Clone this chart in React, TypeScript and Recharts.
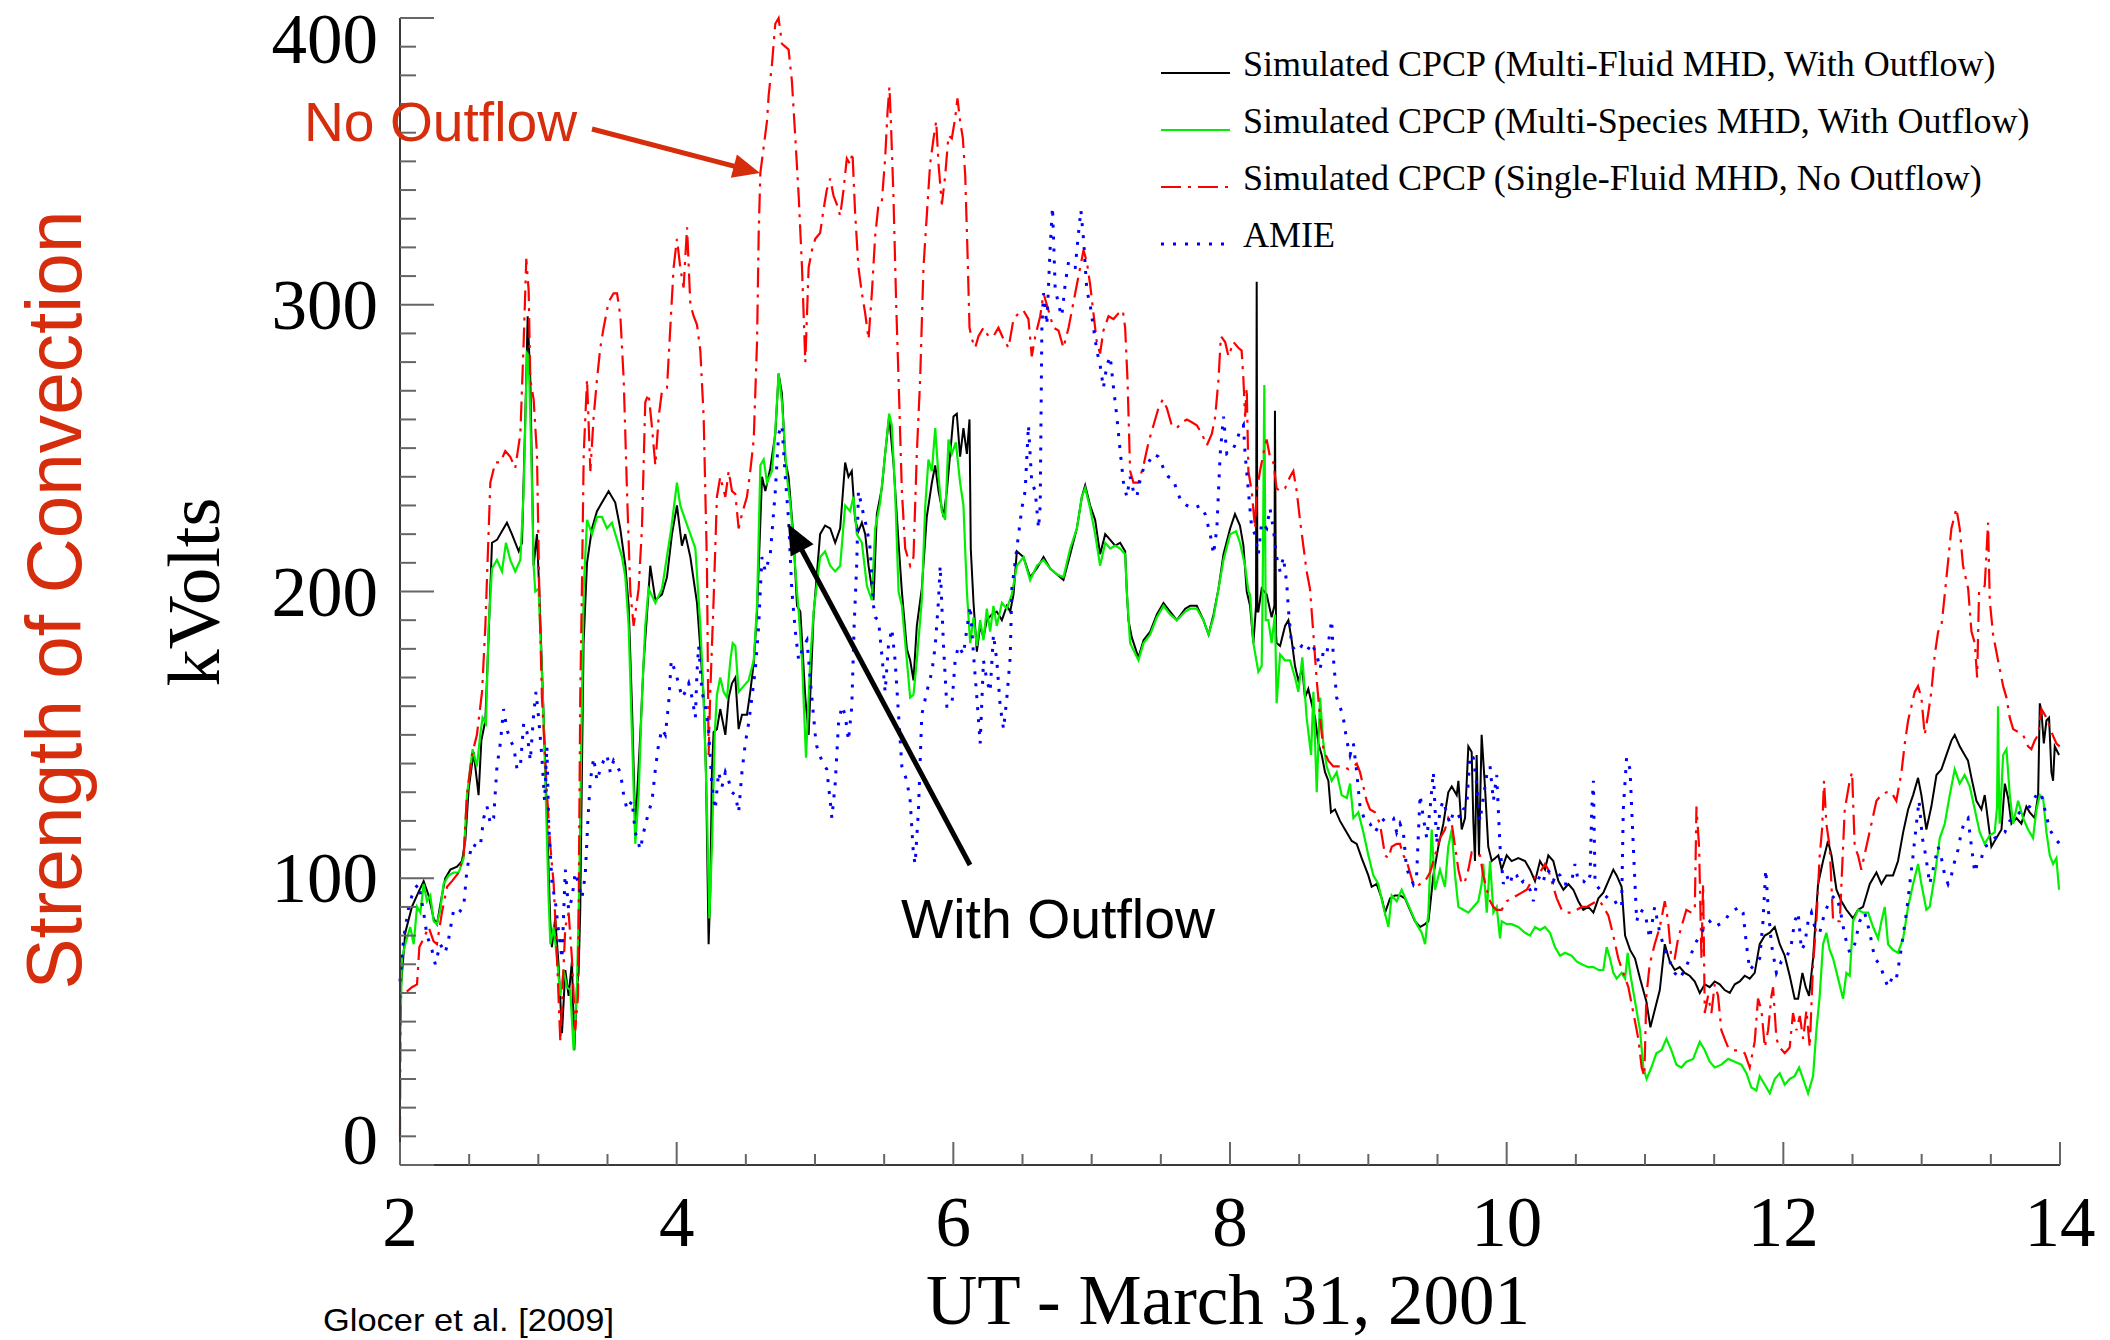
import { LineChart, Line, XAxis, YAxis, Legend } from "recharts";

// UT hours and cross polar cap potential (kV), March 31, 2001
const MULTI_FLUID: [number, number][] = [
  [2.0,58],[2.038,81],[2.086,90],[2.123,94],[2.171,99],[2.207,94],[2.243,86],[2.267,84],[2.303,94],[2.327,100],[2.364,103],[2.412,104],[2.448,106],[2.472,113],[2.496,131],[2.532,144],[2.568,129],[2.588,148],[2.617,155],[2.641,185],[2.665,217],[2.701,218],[2.737,221],[2.773,224],[2.809,220],[2.858,214],[2.882,217],[2.906,261],[2.923,296],[2.942,274],[2.966,209],[2.990,220],[3.007,200],[3.050,140],[3.086,85],[3.098,76],[3.122,86],[3.146,70],[3.171,46],[3.195,68],[3.219,59],[3.243,71],[3.260,40],[3.279,62],[3.291,67],[3.303,89],[3.315,137],[3.327,182],[3.352,210],[3.388,222],[3.424,228],[3.460,231],[3.508,235],[3.556,231],[3.592,222],[3.629,209],[3.653,195],[3.677,160],[3.701,117],[3.737,150],[3.761,175],[3.797,200],[3.809,209],[3.846,197],[3.894,199],[3.930,205],[3.966,220],[4.002,230],[4.038,216],[4.062,220],[4.099,212],[4.135,200],[4.147,196],[4.171,180],[4.195,163],[4.212,137],[4.231,77],[4.243,95],[4.255,137],[4.267,151],[4.291,152],[4.315,159],[4.352,150],[4.376,163],[4.400,168],[4.424,170],[4.448,152],[4.472,157],[4.508,157],[4.532,165],[4.557,175],[4.581,193],[4.617,240],[4.641,235],[4.677,243],[4.713,255],[4.737,276],[4.761,269],[4.785,246],[4.809,240],[4.846,218],[4.870,195],[4.894,193],[4.930,163],[4.954,150],[4.990,192],
  [5.037,220],[5.073,223],[5.110,222],[5.146,217],[5.182,222],[5.218,245],[5.242,240],[5.266,242],[5.290,225],[5.314,221],[5.339,224],[5.363,220],[5.387,209],[5.411,201],[5.423,197],[5.447,227],[5.483,236],[5.507,248],[5.536,261],[5.567,245],[5.604,217],[5.628,200],[5.664,180],[5.688,176],[5.712,169],[5.736,188],[5.772,201],[5.808,226],[5.845,238],[5.869,244],[5.893,235],[5.929,226],[5.953,235],[5.977,248],[6.001,261],[6.025,262],[6.049,247],[6.073,257],[6.098,248],[6.117,260],[6.126,215],[6.146,196],[6.170,179],[6.194,188],[6.218,184],[6.242,190],[6.278,192],[6.314,193],[6.351,190],[6.387,195],[6.411,193],[6.435,199],[6.459,214],[6.507,212],[6.555,205],[6.604,208],[6.652,212],[6.700,208],[6.748,206],[6.796,204],[6.845,213],[6.893,222],[6.929,233],[6.953,237],[6.989,230],[7.025,225],[7.061,213],[7.098,220],[7.134,218],[7.170,216],[7.206,217],[7.242,214],[7.254,200],[7.266,190],[7.290,184],[7.338,177],[7.375,183],[7.423,186],[7.471,192],[7.519,196],[7.567,193],[7.616,190],[7.676,194],[7.712,195],[7.760,195],[7.808,190],[7.845,185],[7.881,192],[7.917,201],[7.953,213],[8.001,222],
  [8.036,227],[8.072,223],[8.097,216],[8.121,200],[8.145,195],[8.169,182],[8.181,190],[8.188,195],[8.193,308],[8.198,193],[8.205,193],[8.229,201],[8.265,199],[8.301,191],[8.321,195],[8.325,263],[8.333,185],[8.337,182],[8.362,181],[8.398,188],[8.422,190],[8.446,183],[8.470,174],[8.494,169],[8.523,173],[8.542,163],[8.566,166],[8.595,160],[8.615,156],[8.639,147],[8.663,143],[8.687,137],[8.711,134],[8.730,123],[8.759,124],[8.795,120],[8.831,117],[8.880,113],[8.916,112],[8.952,107],[9.000,101],[9.024,97],[9.060,98],[9.097,93],[9.121,88],[9.157,93],[9.193,94],[9.229,94],[9.265,93],[9.301,89],[9.337,85],[9.374,83],[9.410,84],[9.434,85],[9.446,90],[9.470,101],[9.506,111],[9.542,119],[9.578,130],[9.603,132],[9.639,129],[9.651,134],[9.675,117],[9.699,121],[9.723,146],[9.747,144],[9.759,120],[9.771,106],[9.783,143],[9.800,108],[9.819,150],[9.843,132],[9.867,111],[9.892,106],[9.916,107],[9.940,108],[9.964,103],[10.000,108],[10.036,106],[10.084,107],[10.133,106],[10.169,103],[10.205,99],[10.241,106],[10.277,103],[10.301,108],[10.337,106],[10.374,99],[10.410,96],[10.446,98],[10.482,96],[10.518,92],[10.554,89],[10.591,90],[10.627,88],[10.663,93],[10.699,95],[10.735,99],[10.771,103],[10.795,101],[10.831,97],[10.856,80],[10.892,75],[10.928,72],[10.964,65],
  [11.010,57],[11.039,48],[11.070,54],[11.107,61],[11.143,77],[11.179,71],[11.215,68],[11.251,69],[11.287,67],[11.323,66],[11.360,64],[11.396,60],[11.432,63],[11.468,62],[11.504,64],[11.540,63],[11.576,61],[11.613,60],[11.649,63],[11.685,64],[11.721,66],[11.757,65],[11.793,67],[11.829,77],[11.866,80],[11.902,81],[11.938,83],[11.974,77],[12.010,73],[12.046,66],[12.082,58],[12.107,58],[12.138,67],[12.162,62],[12.186,59],[12.215,72],[12.251,98],[12.287,106],[12.323,113],[12.348,108],[12.384,96],[12.420,92],[12.456,89],[12.504,86],[12.540,89],[12.576,90],[12.625,98],[12.673,102],[12.709,98],[12.745,101],[12.793,101],[12.829,106],[12.866,116],[12.902,124],[12.938,129],[12.974,135],[12.998,129],[13.034,117],[13.070,125],[13.107,136],[13.143,138],[13.179,143],[13.215,148],[13.239,150],[13.275,146],[13.311,143],[13.335,141],[13.360,135],[13.396,127],[13.432,124],[13.456,129],[13.480,120],[13.504,111],[13.540,114],[13.577,117],[13.601,133],[13.625,128],[13.649,119],[13.685,121],[13.721,119],[13.757,125],[13.781,123],[13.817,121],[13.842,129],[13.854,161],[13.866,158],[13.883,147],[13.902,155],[13.921,156],[13.938,137],[13.950,134],[13.962,146],[13.993,143],
];

const MULTI_SPECIES: [number, number][] = [
  [2.0,40],[2.014,72],[2.038,77],[2.074,83],[2.099,77],[2.123,90],[2.147,88],[2.171,98],[2.195,92],[2.219,94],[2.243,85],[2.267,84],[2.291,89],[2.315,98],[2.352,101],[2.388,102],[2.424,102],[2.460,107],[2.484,129],[2.525,145],[2.556,139],[2.580,150],[2.597,156],[2.621,154],[2.641,188],[2.665,208],[2.701,211],[2.737,207],[2.766,217],[2.797,211],[2.833,207],[2.870,211],[2.894,235],[2.918,283],[2.930,282],[2.949,248],[2.966,209],[2.978,200],[3.002,201],[3.038,156],[3.075,92],[3.087,77],[3.111,83],[3.135,72],[3.159,59],[3.183,68],[3.207,62],[3.231,61],[3.255,40],[3.279,62],[3.296,98],[3.311,150],[3.328,201],[3.352,225],[3.388,220],[3.424,226],[3.460,226],[3.496,222],[3.532,224],[3.569,218],[3.605,212],[3.629,205],[3.653,188],[3.677,150],[3.701,112],[3.725,129],[3.749,163],[3.773,188],[3.797,201],[3.846,196],[3.894,201],[3.961,222],[4.002,238],[4.026,230],[4.062,225],[4.099,220],[4.135,215],[4.171,188],[4.195,163],[4.219,124],[4.236,86],[4.255,111],[4.275,150],[4.291,164],[4.315,170],[4.339,165],[4.364,163],[4.388,176],[4.405,182],[4.424,181],[4.448,165],[4.484,167],[4.520,169],[4.557,176],[4.581,195],[4.605,244],[4.629,246],[4.653,238],[4.689,242],[4.713,256],[4.737,276],[4.761,266],[4.797,240],[4.821,231],[4.846,216],[4.870,200],[4.882,193],[4.906,176],[4.935,142],[4.966,176],[4.990,193],
  [5.037,212],[5.073,214],[5.110,209],[5.146,207],[5.182,209],[5.218,230],[5.254,228],[5.278,233],[5.302,220],[5.339,217],[5.375,202],[5.411,197],[5.435,222],[5.471,231],[5.507,248],[5.536,262],[5.555,258],[5.579,235],[5.604,200],[5.628,195],[5.664,176],[5.688,163],[5.712,164],[5.736,176],[5.772,197],[5.796,229],[5.820,246],[5.845,242],[5.869,257],[5.893,240],[5.917,228],[5.941,225],[5.965,253],[5.989,248],[6.018,252],[6.049,238],[6.073,230],[6.098,200],[6.122,182],[6.146,191],[6.170,181],[6.194,190],[6.218,183],[6.242,194],[6.266,186],[6.290,195],[6.314,188],[6.351,196],[6.387,194],[6.423,199],[6.459,209],[6.507,212],[6.555,204],[6.604,209],[6.652,211],[6.700,208],[6.748,206],[6.796,205],[6.845,215],[6.893,222],[6.929,233],[6.953,236],[6.989,229],[7.025,220],[7.061,209],[7.098,217],[7.134,215],[7.170,216],[7.206,215],[7.242,213],[7.254,200],[7.278,182],[7.338,176],[7.375,182],[7.423,185],[7.471,191],[7.519,195],[7.567,192],[7.616,190],[7.676,193],[7.712,194],[7.760,194],[7.808,190],[7.845,185],[7.881,191],[7.917,201],[7.953,211],[8.001,220],
  [8.044,221],[8.072,217],[8.109,209],[8.133,200],[8.145,199],[8.169,182],[8.205,172],[8.229,174],[8.236,200],[8.248,272],[8.258,190],[8.277,190],[8.301,182],[8.325,192],[8.337,161],[8.362,178],[8.398,176],[8.434,176],[8.470,170],[8.494,165],[8.523,177],[8.554,156],[8.586,143],[8.603,165],[8.627,130],[8.651,163],[8.675,147],[8.699,139],[8.735,134],[8.771,137],[8.807,129],[8.844,128],[8.868,133],[8.892,121],[8.928,123],[8.964,116],[9.000,108],[9.036,101],[9.072,98],[9.109,90],[9.145,83],[9.169,94],[9.205,92],[9.241,96],[9.277,92],[9.313,88],[9.349,84],[9.386,81],[9.410,77],[9.434,88],[9.458,117],[9.482,96],[9.518,103],[9.554,97],[9.578,111],[9.603,117],[9.627,101],[9.651,90],[9.687,89],[9.723,88],[9.759,90],[9.795,92],[9.819,98],[9.831,105],[9.856,88],[9.880,106],[9.904,88],[9.928,90],[9.952,79],[9.964,85],[10.000,84],[10.036,84],[10.084,83],[10.133,81],[10.169,80],[10.205,83],[10.241,82],[10.277,83],[10.313,81],[10.349,76],[10.386,73],[10.422,74],[10.470,73],[10.506,71],[10.542,70],[10.591,69],[10.627,69],[10.663,68],[10.699,68],[10.723,76],[10.747,72],[10.771,67],[10.795,65],[10.831,67],[10.856,65],[10.875,74],[10.892,67],[10.928,57],[10.964,47],[10.988,34],[11.012,30],
  [11.046,34],[11.082,39],[11.119,40],[11.155,44],[11.191,40],[11.227,35],[11.263,34],[11.299,36],[11.348,37],[11.396,43],[11.432,40],[11.468,36],[11.504,34],[11.552,35],[11.601,37],[11.649,36],[11.697,35],[11.733,32],[11.769,27],[11.805,26],[11.829,31],[11.866,28],[11.902,25],[11.938,30],[11.974,32],[12.010,28],[12.046,30],[12.082,31],[12.114,34],[12.143,30],[12.179,25],[12.215,31],[12.239,47],[12.263,59],[12.287,77],[12.311,81],[12.335,75],[12.360,72],[12.396,65],[12.432,58],[12.456,67],[12.480,66],[12.504,85],[12.540,89],[12.576,88],[12.613,88],[12.649,83],[12.685,79],[12.709,85],[12.733,90],[12.757,77],[12.793,75],[12.829,74],[12.866,79],[12.902,90],[12.938,98],[12.974,105],[12.998,98],[13.034,89],[13.058,90],[13.095,101],[13.131,114],[13.167,119],[13.203,129],[13.239,138],[13.275,133],[13.311,136],[13.348,132],[13.384,124],[13.420,116],[13.456,112],[13.492,115],[13.528,116],[13.545,125],[13.552,160],[13.560,125],[13.564,119],[13.589,143],[13.613,145],[13.637,129],[13.661,119],[13.697,127],[13.733,121],[13.769,117],[13.805,114],[13.830,124],[13.854,129],[13.878,128],[13.902,116],[13.926,108],[13.950,105],[13.974,107],[13.993,96],
];

const SINGLE_FLUID: [number, number][] = [
  [2.0,10],[2.004,59],[2.038,60],[2.086,62],[2.123,63],[2.140,76],[2.171,79],[2.207,83],[2.243,78],[2.267,77],[2.303,88],[2.340,97],[2.376,99],[2.424,102],[2.460,108],[2.484,129],[2.520,143],[2.556,150],[2.593,165],[2.617,188],[2.653,238],[2.689,245],[2.725,245],[2.761,249],[2.797,247],[2.833,243],[2.870,255],[2.894,287],[2.913,316],[2.930,305],[2.942,274],[2.966,267],[2.990,248],[3.007,200],[3.026,163],[3.062,130],[3.087,111],[3.111,98],[3.135,72],[3.159,43],[3.195,83],[3.219,88],[3.243,72],[3.267,47],[3.287,59],[3.303,163],[3.315,201],[3.328,248],[3.352,274],[3.376,242],[3.400,261],[3.424,274],[3.448,285],[3.472,292],[3.508,301],[3.544,304],[3.569,304],[3.593,296],[3.617,274],[3.641,235],[3.665,200],[3.689,188],[3.725,201],[3.749,222],[3.773,266],[3.797,269],[3.822,257],[3.846,244],[3.870,261],[3.894,270],[3.930,271],[3.954,292],[3.978,313],[4.002,323],[4.026,313],[4.050,306],[4.075,327],[4.099,300],[4.123,296],[4.147,293],[4.171,284],[4.195,261],[4.219,209],[4.231,143],[4.243,165],[4.267,197],[4.291,233],[4.315,240],[4.352,233],[4.376,242],[4.400,235],[4.424,234],[4.448,222],[4.472,227],[4.508,233],[4.532,242],[4.557,253],[4.581,287],[4.593,325],[4.605,346],[4.629,355],[4.653,364],[4.665,373],[4.689,384],[4.713,398],[4.737,400],[4.761,391],[4.785,390],[4.809,389],[4.833,378],[4.858,358],[4.882,338],[4.906,313],[4.930,280],[4.954,313],[4.978,319],[5.002,323],
  [5.037,325],[5.061,333],[5.085,340],[5.110,344],[5.134,338],[5.158,335],[5.182,331],[5.206,340],[5.230,351],[5.254,349],[5.271,353],[5.290,332],[5.314,313],[5.339,304],[5.363,297],[5.387,288],[5.411,304],[5.435,324],[5.459,335],[5.483,336],[5.507,351],[5.524,367],[5.538,376],[5.550,362],[5.567,338],[5.587,300],[5.604,274],[5.628,235],[5.652,215],[5.688,209],[5.712,212],[5.736,248],[5.760,274],[5.784,313],[5.808,331],[5.832,349],[5.857,358],[5.876,364],[5.893,349],[5.917,335],[5.941,345],[5.965,359],[5.989,358],[6.013,365],[6.030,372],[6.049,364],[6.069,358],[6.086,345],[6.102,319],[6.117,292],[6.134,288],[6.158,285],[6.182,289],[6.218,292],[6.254,289],[6.290,289],[6.326,292],[6.363,288],[6.399,285],[6.435,295],[6.471,297],[6.507,298],[6.543,295],[6.567,282],[6.592,289],[6.628,296],[6.652,304],[6.688,298],[6.724,292],[6.760,291],[6.796,285],[6.833,292],[6.869,301],[6.905,310],[6.941,319],[6.965,315],[6.989,307],[7.013,297],[7.037,287],[7.061,283],[7.085,291],[7.122,296],[7.158,295],[7.194,297],[7.225,298],[7.242,292],[7.259,274],[7.278,242],[7.302,238],[7.338,238],[7.375,244],[7.411,252],[7.447,258],[7.483,264],[7.514,267],[7.543,264],[7.579,258],[7.616,257],[7.652,259],[7.688,260],[7.724,259],[7.760,258],[7.796,255],[7.833,251],[7.869,255],[7.893,261],[7.917,274],[7.934,289],[7.965,287],[7.989,282],[8.025,287],
  [8.060,285],[8.084,284],[8.097,274],[8.109,261],[8.121,271],[8.133,242],[8.157,235],[8.181,222],[8.193,235],[8.217,242],[8.241,248],[8.265,253],[8.289,247],[8.313,245],[8.337,236],[8.362,235],[8.398,236],[8.434,240],[8.458,242],[8.482,235],[8.506,225],[8.530,216],[8.554,207],[8.578,201],[8.603,185],[8.627,169],[8.651,156],[8.675,145],[8.711,141],[8.747,139],[8.783,139],[8.819,139],[8.856,138],[8.892,139],[8.916,140],[8.940,137],[8.964,132],[8.988,127],[9.012,124],[9.048,123],[9.084,119],[9.121,108],[9.145,107],[9.169,111],[9.205,112],[9.229,112],[9.253,108],[9.277,106],[9.301,102],[9.325,98],[9.349,97],[9.374,98],[9.410,99],[9.446,102],[9.482,108],[9.518,114],[9.554,117],[9.578,121],[9.603,119],[9.627,111],[9.651,103],[9.675,98],[9.699,99],[9.723,103],[9.747,109],[9.783,108],[9.807,108],[9.831,101],[9.856,96],[9.880,92],[9.904,90],[9.928,89],[9.964,89],[10.000,92],[10.036,93],[10.073,94],[10.109,95],[10.145,96],[10.181,99],[10.217,101],[10.253,103],[10.277,105],[10.301,103],[10.325,99],[10.362,93],[10.398,89],[10.434,88],[10.470,88],[10.506,89],[10.542,90],[10.578,90],[10.615,91],[10.651,92],[10.675,92],[10.711,89],[10.735,87],[10.771,80],[10.807,72],[10.843,67],[10.880,62],[10.916,53],[10.952,44],[10.976,34],[10.995,31],
  [11.010,59],[11.034,70],[11.070,77],[11.107,83],[11.143,92],[11.167,85],[11.191,72],[11.215,72],[11.239,79],[11.263,83],[11.299,89],[11.335,88],[11.360,89],[11.372,125],[11.391,111],[11.408,72],[11.420,98],[11.432,53],[11.456,59],[11.480,53],[11.504,63],[11.528,59],[11.552,47],[11.576,44],[11.601,41],[11.637,40],[11.685,40],[11.721,39],[11.757,34],[11.793,43],[11.817,58],[11.842,54],[11.866,41],[11.890,47],[11.914,59],[11.926,62],[11.950,44],[11.974,41],[12.010,39],[12.046,41],[12.070,53],[12.095,47],[12.119,52],[12.143,44],[12.167,54],[12.191,41],[12.215,70],[12.239,85],[12.263,108],[12.280,117],[12.294,134],[12.311,119],[12.335,111],[12.360,85],[12.408,85],[12.444,124],[12.480,134],[12.497,137],[12.516,111],[12.540,108],[12.564,103],[12.600,111],[12.637,119],[12.673,127],[12.709,129],[12.745,130],[12.781,130],[12.817,127],[12.854,137],[12.878,147],[12.902,155],[12.926,160],[12.950,165],[12.974,167],[12.998,163],[13.022,150],[13.046,157],[13.070,165],[13.095,178],[13.119,186],[13.143,188],[13.167,199],[13.215,222],[13.251,229],[13.275,222],[13.299,209],[13.336,201],[13.360,186],[13.384,182],[13.401,170],[13.415,200],[13.456,202],[13.480,224],[13.492,197],[13.516,185],[13.552,176],[13.589,167],[13.613,163],[13.637,156],[13.661,152],[13.697,151],[13.733,150],[13.769,146],[13.793,145],[13.817,148],[13.842,150],[13.866,159],[13.902,156],[13.938,151],[13.974,147],[13.998,146],
];

const AMIE: [number, number][] = [
  [2.0,64],[2.026,79],[2.063,90],[2.099,96],[2.135,98],[2.171,88],[2.195,80],[2.231,75],[2.255,70],[2.291,77],[2.327,74],[2.352,79],[2.388,89],[2.424,88],[2.460,90],[2.484,103],[2.520,112],[2.556,111],[2.580,111],[2.605,121],[2.629,125],[2.653,119],[2.677,121],[2.701,139],[2.725,147],[2.749,159],[2.773,152],[2.797,148],[2.822,146],[2.846,138],[2.870,139],[2.894,154],[2.918,151],[2.942,141],[2.966,157],[2.983,165],[3.002,156],[3.026,142],[3.045,127],[3.062,146],[3.075,119],[3.099,98],[3.123,92],[3.147,81],[3.171,72],[3.195,103],[3.219,89],[3.243,93],[3.267,102],[3.291,98],[3.315,93],[3.339,101],[3.359,121],[3.376,134],[3.400,142],[3.424,134],[3.448,138],[3.472,141],[3.496,143],[3.520,137],[3.544,141],[3.569,139],[3.593,137],[3.617,129],[3.641,124],[3.677,127],[3.701,116],[3.737,110],[3.761,116],[3.797,123],[3.822,127],[3.846,138],[3.870,147],[3.894,152],[3.918,150],[3.942,161],[3.961,176],[3.990,172],[4.014,168],[4.038,163],[4.063,165],[4.087,168],[4.111,163],[4.135,156],[4.147,172],[4.159,181],[4.183,165],[4.207,160],[4.231,152],[4.255,132],[4.279,124],[4.303,137],[4.328,132],[4.352,137],[4.376,134],[4.400,130],[4.424,129],[4.448,123],[4.472,137],[4.496,147],[4.520,154],[4.544,163],[4.569,173],[4.593,188],[4.605,201],[4.617,212],[4.641,207],[4.677,213],[4.713,235],[4.737,255],[4.761,258],[4.785,240],[4.809,225],[4.833,200],[4.858,186],[4.882,176],[4.918,181],[4.942,183],[4.966,169],[5.002,150],
  [5.013,146],[5.049,141],[5.085,138],[5.110,127],[5.122,121],[5.146,133],[5.170,154],[5.194,160],[5.218,157],[5.242,148],[5.266,160],[5.283,188],[5.302,210],[5.314,235],[5.350,227],[5.375,222],[5.399,215],[5.423,195],[5.435,191],[5.459,190],[5.483,178],[5.507,165],[5.531,181],[5.555,187],[5.579,176],[5.604,157],[5.628,139],[5.664,134],[5.688,127],[5.712,108],[5.724,105],[5.748,124],[5.772,157],[5.808,165],[5.845,172],[5.869,181],[5.893,197],[5.905,209],[5.929,181],[5.953,160],[5.989,160],[6.013,176],[6.037,181],[6.073,178],[6.098,187],[6.122,195],[6.146,178],[6.170,163],[6.194,147],[6.218,176],[6.242,169],[6.266,165],[6.290,185],[6.314,176],[6.339,160],[6.363,152],[6.387,163],[6.411,177],[6.423,201],[6.459,215],[6.495,229],[6.519,235],[6.543,258],[6.567,238],[6.592,235],[6.616,222],[6.628,230],[6.640,292],[6.652,304],[6.676,293],[6.700,320],[6.717,334],[6.736,306],[6.760,300],[6.784,296],[6.808,307],[6.833,315],[6.857,313],[6.881,313],[6.905,325],[6.922,333],[6.941,323],[6.965,305],[6.989,300],[7.013,292],[7.037,284],[7.061,279],[7.085,271],[7.110,279],[7.134,282],[7.158,271],[7.182,261],[7.206,249],[7.230,238],[7.254,233],[7.278,240],[7.302,235],[7.326,233],[7.351,239],[7.375,243],[7.411,245],[7.447,248],[7.483,247],[7.519,243],[7.555,240],[7.592,239],[7.616,235],[7.652,231],[7.688,230],[7.736,229],[7.784,230],[7.820,227],[7.857,220],[7.881,213],[7.905,222],[7.929,248],[7.953,261],[7.977,248],[8.013,249],
  [8.036,251],[8.072,256],[8.097,258],[8.109,248],[8.133,235],[8.157,222],[8.181,220],[8.205,213],[8.229,224],[8.265,222],[8.289,229],[8.313,222],[8.337,212],[8.362,207],[8.386,212],[8.410,203],[8.422,194],[8.446,181],[8.482,179],[8.518,181],[8.554,179],[8.590,182],[8.627,178],[8.651,173],[8.675,179],[8.699,178],[8.735,190],[8.747,177],[8.771,163],[8.795,160],[8.819,156],[8.844,148],[8.868,143],[8.892,147],[8.916,137],[8.940,125],[8.976,120],[9.012,119],[9.048,116],[9.084,119],[9.121,121],[9.157,121],[9.181,121],[9.205,116],[9.229,119],[9.253,116],[9.277,103],[9.301,101],[9.325,98],[9.349,101],[9.374,129],[9.398,121],[9.422,114],[9.446,124],[9.470,137],[9.494,112],[9.518,124],[9.542,127],[9.566,123],[9.590,119],[9.615,123],[9.639,123],[9.663,121],[9.687,124],[9.711,125],[9.735,143],[9.759,142],[9.783,133],[9.807,120],[9.831,128],[9.856,136],[9.880,139],[9.904,127],[9.928,136],[9.952,111],[9.976,98],[10.000,101],[10.024,98],[10.048,102],[10.073,101],[10.097,98],[10.121,99],[10.145,98],[10.169,96],[10.193,92],[10.217,98],[10.241,101],[10.265,99],[10.289,103],[10.313,102],[10.337,99],[10.362,102],[10.386,101],[10.410,98],[10.446,98],[10.470,99],[10.494,105],[10.518,99],[10.554,99],[10.578,98],[10.603,101],[10.615,124],[10.627,134],[10.639,98],[10.675,96],[10.711,94],[10.735,93],[10.771,93],[10.807,90],[10.831,90],[10.843,124],[10.867,142],[10.892,138],[10.904,124],[10.923,103],[10.940,85],[10.964,89],[11.000,88],
  [11.034,79],[11.070,90],[11.107,81],[11.143,75],[11.179,71],[11.215,67],[11.251,65],[11.287,68],[11.323,72],[11.360,77],[11.396,80],[11.432,83],[11.468,85],[11.504,83],[11.540,84],[11.576,85],[11.613,88],[11.649,89],[11.685,90],[11.709,88],[11.733,77],[11.757,68],[11.793,70],[11.829,72],[11.853,85],[11.873,103],[11.890,90],[11.914,77],[11.950,67],[11.986,71],[12.022,72],[12.058,77],[12.082,85],[12.107,88],[12.131,75],[12.155,77],[12.179,85],[12.203,88],[12.227,83],[12.263,81],[12.299,88],[12.335,92],[12.372,94],[12.408,90],[12.444,80],[12.480,74],[12.516,77],[12.552,85],[12.588,88],[12.625,81],[12.661,72],[12.697,70],[12.733,65],[12.757,62],[12.793,66],[12.817,65],[12.842,72],[12.866,80],[12.890,88],[12.914,98],[12.938,108],[12.962,119],[12.981,127],[13.005,114],[13.029,108],[13.058,98],[13.082,103],[13.119,111],[13.143,107],[13.167,101],[13.191,98],[13.215,101],[13.239,106],[13.263,110],[13.287,116],[13.311,120],[13.335,121],[13.360,111],[13.384,102],[13.408,106],[13.432,107],[13.456,111],[13.492,112],[13.528,114],[13.564,115],[13.601,116],[13.637,120],[13.673,121],[13.709,123],[13.745,124],[13.781,125],[13.817,128],[13.842,130],[13.866,129],[13.890,124],[13.926,117],[13.962,114],[13.998,112],
];

const X_TICKS = [2, 2.5, 3, 3.5, 4, 4.5, 5, 5.5, 6, 6.5, 7, 7.5, 8, 8.5, 9, 9.5, 10, 10.5, 11, 11.5, 12, 12.5, 13, 13.5, 14];
const Y_TICKS = [
  0, 10, 20, 30, 40, 50, 60, 70, 80, 90, 100, 110, 120, 130, 140, 150, 160, 170, 180, 190, 200,
  210, 220, 230, 240, 250, 260, 270, 280, 290, 300, 310, 320, 330, 340, 350, 360, 370, 380, 390, 400,
];

const SERIF = '"Liberation Serif", "Times New Roman", Times, serif';
const SANS = '"Liberation Sans", Arial, Helvetica, sans-serif';
const RED_TEXT = "#d62d0c";
const FRAME = "#3a3a3a";
const TICK = "#666";

const SERIES = [
  { id: "mf", name: "Simulated CPCP (Multi-Fluid MHD, With Outflow)", rows: MULTI_FLUID, color: "#000000", width: 2, dash: undefined as string | undefined },
  { id: "ms", name: "Simulated CPCP (Multi-Species MHD, With Outflow)", rows: MULTI_SPECIES, color: "#00f000", width: 2.2, dash: undefined },
  { id: "sf", name: "Simulated CPCP (Single-Fluid MHD, No Outflow)", rows: SINGLE_FLUID, color: "#ff0000", width: 2.2, dash: "20 7 3 7" },
  { id: "amie", name: "AMIE", rows: AMIE, color: "#0000ff", width: 3, dash: "3 9" },
];

function BottomTick(props: any) {
  const { x, y, payload } = props;
  const major = payload.value % 2 === 0;
  return (
    <g>
      <line x1={x} y1={y} x2={x} y2={y - (major ? 23 : 11)} stroke={TICK} strokeWidth={2} />
      {major && (
        <text x={x} y={y + 81} textAnchor="middle" fontFamily={SERIF} fontSize={71} fill="#000">
          {payload.value}
        </text>
      )}
    </g>
  );
}

function TopTick(props: any) {
  const { x, y, payload } = props;
  const major = payload.value % 2 === 0;
  return <line x1={x} y1={y} x2={x} y2={y + (major ? 23 : 11)} stroke={TICK} strokeWidth={2} />;
}

function LeftTick(props: any) {
  const { x, y, payload } = props;
  const major = payload.value % 100 === 0;
  // end labels are nudged inside the frame
  const shift = payload.value === 400 ? 21 : payload.value === 0 ? -25 : 0;
  return (
    <g>
      <line x1={x} y1={y} x2={x + (major ? 34 : 16)} y2={y} stroke={TICK} strokeWidth={2} />
      {major && (
        <text x={x - 22} y={y + 24 + shift} textAnchor="end" fontFamily={SERIF} fontSize={71} fill="#000">
          {payload.value}
        </text>
      )}
    </g>
  );
}

function RightTick(props: any) {
  const { x, y, payload } = props;
  const major = payload.value % 100 === 0;
  return <line x1={x} y1={y} x2={x - (major ? 34 : 16)} y2={y} stroke={TICK} strokeWidth={2} />;
}

function LegendBox() {
  return (
    <div style={{ fontFamily: SERIF, fontSize: 36, lineHeight: "57px", color: "#000", whiteSpace: "nowrap" }}>
      {SERIES.map((s) => (
        <div key={s.id} style={{ height: 57 }}>
          <svg width={69} height={6} style={{ verticalAlign: "baseline", marginRight: 13, overflow: "visible" }}>
            <line x1={0} y1={3} x2={69} y2={3} stroke={s.color} strokeWidth={s.width} strokeDasharray={s.dash} />
          </svg>
          {s.name}
        </div>
      ))}
    </div>
  );
}

function Arrow({ from, to, color, width, head, half }: { from: number[]; to: number[]; color: string; width: number; head: number; half: number }) {
  const [x1, y1] = from;
  const [x2, y2] = to;
  const len = Math.hypot(x2 - x1, y2 - y1);
  const ux = (x2 - x1) / len;
  const uy = (y2 - y1) / len;
  const bx = x2 - ux * head;
  const by = y2 - uy * head;
  const px = -uy * half;
  const py = ux * half;
  return (
    <g>
      <line x1={x1} y1={y1} x2={bx + ux * 2} y2={by + uy * 2} stroke={color} strokeWidth={width} />
      <polygon points={`${x2},${y2} ${bx + px},${by + py} ${bx - px},${by - py}`} fill={color} />
    </g>
  );
}

export default function App() {
  return (
    <div style={{ position: "relative", width: 2110, height: 1340, background: "#fff", overflow: "hidden" }}>
      <style>{"body{margin:0;background:#fff}"}</style>
      <LineChart width={2110} height={1340} margin={{ top: 18, right: 50, bottom: 0, left: 0 }}>
        <XAxis
          xAxisId="bottom"
          type="number"
          dataKey="t"
          domain={[2, 14]}
          ticks={X_TICKS}
          interval={0}
          height={175}
          tickSize={0}
          tickMargin={0}
          tickLine={false}
          axisLine={{ stroke: FRAME, strokeWidth: 2 }}
          tick={<BottomTick />}
        />
        <XAxis
          xAxisId="top"
          orientation="top"
          type="number"
          dataKey="t"
          domain={[2, 14]}
          ticks={X_TICKS}
          interval={0}
          height={0}
          tickSize={0}
          tickMargin={0}
          tickLine={false}
          axisLine={{ stroke: FRAME, strokeWidth: 2 }}
          tick={<TopTick />}
        />
        <YAxis
          yAxisId="left"
          type="number"
          domain={[0, 400]}
          ticks={Y_TICKS}
          interval={0}
          width={400}
          tickSize={0}
          tickMargin={0}
          tickLine={false}
          axisLine={{ stroke: FRAME, strokeWidth: 2 }}
          tick={<LeftTick />}
        />
        <YAxis
          yAxisId="right"
          orientation="right"
          type="number"
          domain={[0, 400]}
          ticks={Y_TICKS}
          interval={0}
          width={0}
          tickSize={0}
          tickMargin={0}
          tickLine={false}
          axisLine={{ stroke: FRAME, strokeWidth: 2 }}
          tick={<RightTick />}
        />
        {SERIES.map((s) => (
          <Line
            key={s.id}
            xAxisId="bottom"
            yAxisId="left"
            data={s.rows.map(([t, v]) => ({ t, v }))}
            dataKey="v"
            name={s.name}
            type="linear"
            stroke={s.color}
            strokeWidth={s.width}
            strokeDasharray={s.dash}
            dot={false}
            activeDot={false}
            isAnimationActive={false}
          />
        ))}
        <Legend
          content={<LegendBox />}
          layout="vertical"
          align="center"
          verticalAlign="middle"
          wrapperStyle={{ top: 36, left: 1161, width: "auto", height: "auto" }}
        />
      </LineChart>
      <svg
        width={2110}
        height={1340}
        style={{ position: "absolute", top: 0, left: 0, pointerEvents: "none" }}
      >
        <text
          x={81}
          y={600}
          transform="rotate(-90 81 600)"
          textAnchor="middle"
          fontFamily={SANS}
          fontSize={78}
          fill={RED_TEXT}
          textLength={779}
          lengthAdjust="spacingAndGlyphs"
        >
          Strength of Convection
        </text>
        <text
          x={219}
          y={592}
          transform="rotate(-90 219 592)"
          textAnchor="middle"
          fontFamily={SERIF}
          fontSize={74}
          fill="#000"
          textLength={189}
          lengthAdjust="spacingAndGlyphs"
        >
          kVolts
        </text>
        <text x={1228} y={1324} textAnchor="middle" fontFamily={SERIF} fontSize={72} fill="#000" textLength={604} lengthAdjust="spacingAndGlyphs">
          UT - March 31, 2001
        </text>
        <text x={304} y={141} fontFamily={SANS} fontSize={56} fill={RED_TEXT} textLength={273} lengthAdjust="spacingAndGlyphs">
          No Outflow
        </text>
        <Arrow from={[592, 129]} to={[760, 173]} color={RED_TEXT} width={5} head={27} half={12} />
        <text x={901} y={938} fontFamily={SANS} fontSize={55} fill="#000" textLength={314} lengthAdjust="spacingAndGlyphs">
          With Outflow
        </text>
        <Arrow from={[970, 865]} to={[788, 524]} color="#000" width={5} head={30} half={13} />
        <text x={323} y={1331} fontFamily={SANS} fontSize={32} fill="#000" textLength={291} lengthAdjust="spacingAndGlyphs">
          Glocer et al. [2009]
        </text>
      </svg>
    </div>
  );
}
